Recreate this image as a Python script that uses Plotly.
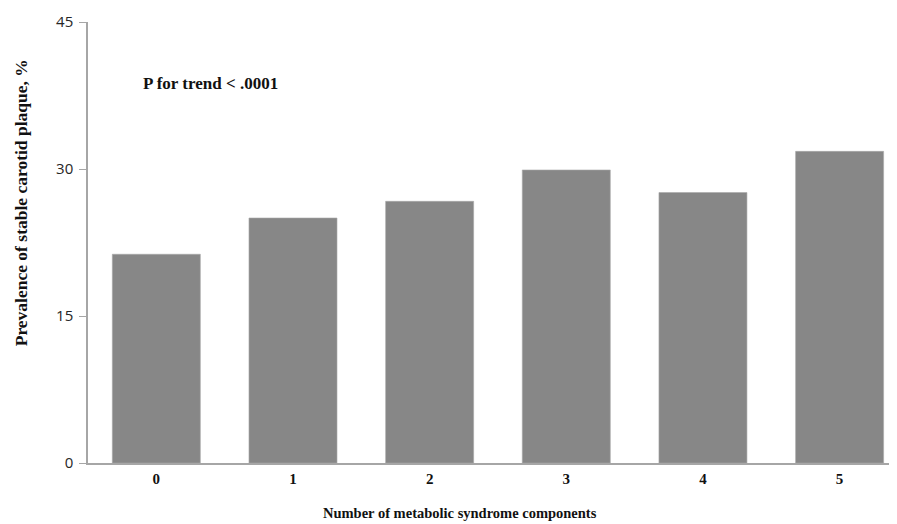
import plotly.graph_objects as go

categories = ["0", "1", "2", "3", "4", "5"]
prevalence = [21.3, 25.0, 26.7, 29.9, 27.6, 31.8]
y_ticks = [0, 15, 30, 45]

x_pos = list(range(len(categories)))

# page offset from the default 8px body margin
OFF = 8
PL, PR, PT, PB = 87.6, 897.0, 22.0, 463.3  # plot area in page pixels
PW, PH = PR - PL, PB - PT


def px(x):
    return (x - PL) / PW


def py(y):
    return (PB - y) / PH


fig = go.Figure()
fig.add_trace(go.Bar(
    x=x_pos, y=prevalence,
    marker=dict(color="#878787", line=dict(color="#a8a8a8", width=0.6)),
    width=0.644,
))

serif = "Liberation Serif, Times New Roman, serif"
fig.update_layout(
    width=897 - OFF, height=524 - OFF,
    margin=dict(l=PL - OFF, r=0, t=PT - OFF, b=524 - PB, pad=0),
    paper_bgcolor="white", plot_bgcolor="white",
    showlegend=False,
    xaxis=dict(
        range=[-0.5, 5.42], tickvals=x_pos, ticktext=categories,
        showline=True, linecolor="#a6a6a6", linewidth=1.5,
        showgrid=False, zeroline=False, ticks="",
        ticklabelstandoff=1,
        tickfont=dict(family=serif, size=15, color="#111111", weight="bold"),
    ),
    yaxis=dict(
        range=[0, 45], tickvals=y_ticks,
        showline=True, linecolor="#a6a6a6", linewidth=1.5,
        showgrid=False, zeroline=False,
        ticks="outside", ticklen=7, tickcolor="#a6a6a6",
        ticklabelstandoff=3,
        tickfont=dict(family="Open Sans, sans-serif", size=15, color="#262626"),
    ),
    annotations=[
        dict(text="<b>P for trend < .0001</b>", xref="paper", yref="paper",
             x=px(141), y=py(83.5), xanchor="left", yanchor="middle",
             showarrow=False, font=dict(family=serif, size=17, color="#111111")),
        dict(text="<b>Number of metabolic syndrome components</b>", xref="paper", yref="paper",
             x=px(460), y=py(513), xanchor="center", yanchor="middle",
             showarrow=False, font=dict(family=serif, size=14.5, color="#111111")),
        dict(text="<b>Prevalence of stable carotid plaque, %</b>", xref="paper", yref="paper",
             x=px(20), y=py(203), xanchor="center", yanchor="middle",
             textangle=-90,
             showarrow=False, font=dict(family=serif, size=17.5, color="#111111")),
    ],
)

fig.write_html("out.html")
